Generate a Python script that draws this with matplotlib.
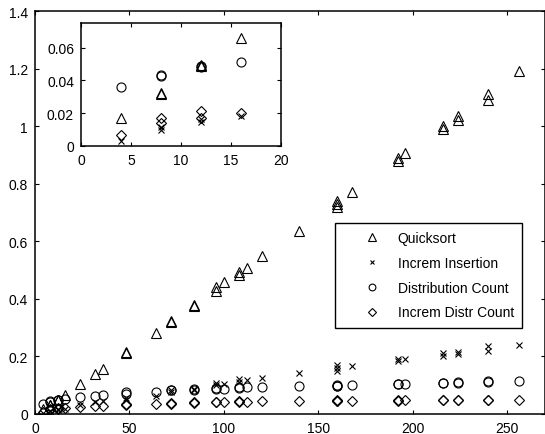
import matplotlib
matplotlib.use('Agg')
import matplotlib.pyplot as plt

# sizes (n) and timings (s) per method
x = [4, 8, 8, 12, 12, 16, 24, 32, 36, 48, 48, 64, 72, 72, 84, 84, 96, 96, 100,
     108, 108, 112, 120, 140, 160, 160, 160, 168, 192, 192, 196, 216, 216,
     224, 224, 240, 240, 256]
quicksort = [0.017, 0.032, 0.0325, 0.049, 0.0495, 0.066, 0.105, 0.138, 0.158,
             0.212, 0.215, 0.282, 0.32, 0.323, 0.375, 0.378, 0.428, 0.44, 0.458,
             0.482, 0.495, 0.507, 0.548, 0.635, 0.72, 0.73, 0.74, 0.772, 0.88,
             0.89, 0.907, 0.99, 1.0, 1.02, 1.035, 1.09, 1.11, 1.19]
increm_insertion = [0.003, 0.0098, 0.0115, 0.0147, 0.0165, 0.018, 0.032, 0.042,
                    0.044, 0.05, 0.055, 0.063, 0.078, 0.082, 0.085, 0.088, 0.1,
                    0.108, 0.104, 0.112, 0.12, 0.118, 0.125, 0.143, 0.15, 0.16,
                    0.17, 0.167, 0.183, 0.19, 0.19, 0.2, 0.213, 0.21, 0.214,
                    0.22, 0.236, 0.241]
distribution_count = [0.036, 0.0425, 0.0435, 0.048, 0.049, 0.0514, 0.06, 0.063,
                      0.065, 0.07, 0.075, 0.077, 0.082, 0.084, 0.085, 0.087,
                      0.086, 0.09, 0.088, 0.09, 0.094, 0.095, 0.095, 0.097,
                      0.097, 0.099, 0.1, 0.1, 0.103, 0.104, 0.104, 0.108,
                      0.109, 0.109, 0.11, 0.112, 0.114, 0.116]
increm_distr = [0.0067, 0.0141, 0.0171, 0.0171, 0.0214, 0.0203, 0.025, 0.029,
                0.027, 0.031, 0.036, 0.035, 0.036, 0.038, 0.038, 0.04, 0.04,
                0.043, 0.041, 0.042, 0.044, 0.043, 0.044, 0.045, 0.045, 0.046,
                0.047, 0.046, 0.046, 0.047, 0.047, 0.047, 0.048, 0.048, 0.049,
                0.048, 0.05, 0.05]
labels = ['Quicksort', 'Increm Insertion', 'Distribution Count',
          'Increm Distr Count']

plt.rcParams['font.family'] = ['Liberation Sans', 'DejaVu Sans']
plt.rcParams['font.size'] = 10

W, H = 545, 435
fig = plt.figure(figsize=(W / 100, H / 100), dpi=100)

series = [quicksort, increm_insertion, distribution_count, increm_distr]
styles = [dict(marker='^', ms=7.5), dict(marker='x', ms=4.5),
          dict(marker='o', ms=6.5), dict(marker='D', ms=5)]


def setup(ax):
    ax.tick_params(direction='in', top=True, right=True, length=3,
                   width=0.8, pad=5)
    for s in ax.spines.values():
        s.set_linewidth(1.1)


# main axes
ax = fig.add_axes([35 / W, 20 / H, (W - 35) / W, (415 - 12) / H])
for y, st, lab in zip(series, styles, labels):
    ax.plot(x, y, linestyle='none', mfc='none', mec='black', mew=0.8,
            label=lab, **st)
ax.set_xlim(0, 270)
ax.set_ylim(0, 1.4)
ax.set_xticks([0, 50, 100, 150, 200, 250])
ax.set_yticks([0, 0.2, 0.4, 0.6, 0.8, 1.0, 1.2, 1.4])
ax.set_yticklabels(['0', '0.2', '0.4', '0.6', '0.8', '1', '1.2', '1.4'])
setup(ax)

leg = ax.legend(loc='upper left', bbox_to_anchor=(335 / W, 1 - 224 / H),
                bbox_transform=fig.transFigure, frameon=True, fancybox=False,
                edgecolor='black', framealpha=1, markerscale=0.75,
                handlelength=4.1, handletextpad=-0.2, borderpad=0.6,
                labelspacing=0.77, borderaxespad=0)
leg.get_frame().set_linewidth(1.0)

# inset: small sizes
ins = fig.add_axes([81 / W, 1 - 147 / H, 200 / W, 123 / H])
for y, st in zip(series, styles):
    xs = [a for a in x if a <= 16]
    ys = [b for a, b in zip(x, y) if a <= 16]
    ins.plot(xs, ys, linestyle='none', mfc='none', mec='black', mew=0.8, **st)
ins.set_xlim(0, 20)
ins.set_ylim(0, 0.075)
ins.set_xticks([0, 5, 10, 15, 20])
ins.set_yticks([0, 0.02, 0.04, 0.06])
ins.set_yticklabels(['0', '0.02', '0.04', '0.06'])
setup(ins)

fig.savefig('out.png', dpi=100)
